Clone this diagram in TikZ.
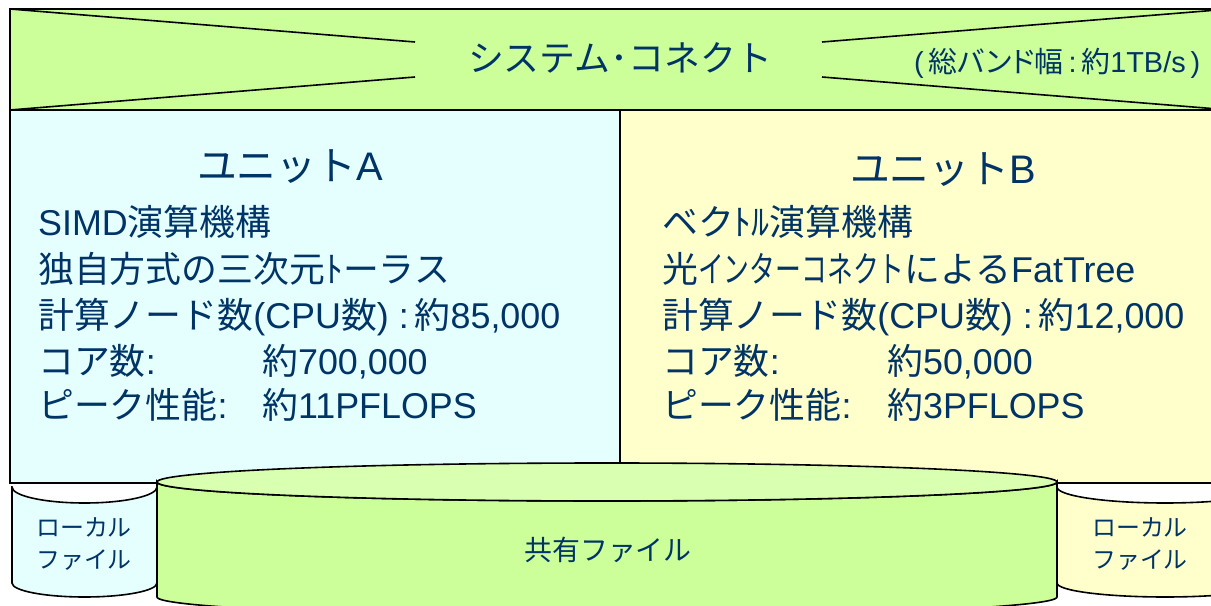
\documentclass[tikz,border=0pt]{standalone}
\usepackage{fontspec}
\setmainfont{Noto Sans CJK JP}
\newfontfamily\latin{Liberation Sans}
\newfontfamily\prop{Noto Sans CJK JP}[RawFeature=+palt]
\definecolor{navy}{RGB}{0,51,102}
\definecolor{bandgreen}{RGB}{204,255,153}
\definecolor{topgreen}{RGB}{217,255,176}
\definecolor{unitcyan}{RGB}{229,255,255}
\definecolor{unityellow}{RGB}{255,255,204}
\begin{document}
\begin{tikzpicture}[x=1bp,y=-1bp,
  edge/.style={draw=black,line width=1.6bp},
  txt/.style={text=navy,inner sep=0pt},
  item/.style={txt,anchor=base west,font=\fontsize{36}{36}\selectfont},
  unit/.style={txt,font=\fontsize{40}{40}\selectfont},
  disk/.style={txt,align=center,font=\fontsize{24}{32}\selectfont}]

    \useasboundingbox (0,0) rectangle (1211,606);
    \clip (0,0) rectangle (1211,606);

    \path[edge,fill=unitcyan] (12,487) -- (12,583) arc[start angle=180,end angle=0,x radius=72.5,y radius=14]
        -- (157,487) arc[start angle=0,end angle=180,x radius=72.5,y radius=16] -- cycle;
    \path[edge,fill=unityellow] (1057,487) -- (1057,583) arc[start angle=180,end angle=0,x radius=108,y radius=14]
        -- (1273,487) arc[start angle=0,end angle=180,x radius=108,y radius=16] -- cycle;

    \path[edge,fill=unitcyan] (10,110) rectangle (620,483);
    \path[edge,fill=unityellow] (620,110) rectangle (1240,483);

    \path[edge,fill=bandgreen] (157,482) -- (157,597) arc[start angle=180,end angle=0,x radius=450,y radius=19]
        -- (1057,482) arc[start angle=0,end angle=180,x radius=450,y radius=19] -- cycle;
    \path[edge,fill=topgreen] (607,482) ellipse[x radius=450,y radius=19];

    \path[edge,fill=bandgreen] (10,9) rectangle (1230,110);
    \draw[edge] (10,9) -- (415,42);
    \draw[edge] (10,110) -- (415,77);
    \draw[edge] (822,42) -- (1230,9);
    \draw[edge] (822,77) -- (1230,110);

    \node[txt,font=\fontsize{36}{36}\selectfont] (sys) at (620,58) {システム･コネクト};
    \node[txt,anchor=west,font=\fontsize{29}{29}\selectfont\prop] (bw) at (914,63) {{\latin(}\,総バンド幅{\latin\,:\,}約{\latin 1TB/s\,)}};

    \node[unit] (ua) at (290,167) {ユニット{\latin A}};
    \node[item] (a1) at (38,236) {{\latin SIMD}演算機構};
    \node[item] (a2) at (38,283) {独自方式の三次元ﾄーラス};
    \node[item] (a3) at (38,329) {計算ノード数{\latin (CPU}数{\latin) :\,}約{\latin 85,000}};
    \node[item] (a4) at (38,374) {コア数{\latin :}};
    \node[item] (a4v) at (262,374) {約{\latin 700,000}};
    \node[item] (a5) at (38,418) {ピーク性能{\latin :}};
    \node[item] (a5v) at (262,418) {約{\latin 11PFLOPS}};

    \node[unit] (ub) at (943,170) {ユニット{\latin B}};
    \node[item] (b1) at (662,236) {ベクﾄﾙ演算機構};
    \node[item] (b2) at (662,283) {光\scalebox{0.72}[1]{インターコネクト}による{\latin FatTree}};
    \node[item] (b3) at (662,329) {計算ノード数{\latin (CPU}数{\latin) :\,}約{\latin 12,000}};
    \node[item] (b4) at (662,374) {コア数{\latin :}};
    \node[item] (b4v) at (887,374) {約{\latin 50,000}};
    \node[item] (b5) at (662,418) {ピーク性能{\latin :}};
    \node[item] (b5v) at (887,418) {約{\latin 3PFLOPS}};

    \node[disk] (la) at (84,544) {ローカル\\ファイル};
    \node[disk] (lb) at (1140,544) {ローカル\\ファイル};
    \node[txt,font=\fontsize{28}{28}\selectfont] (sh) at (608,550) {共有ファイル};
\end{tikzpicture}
\end{document}
